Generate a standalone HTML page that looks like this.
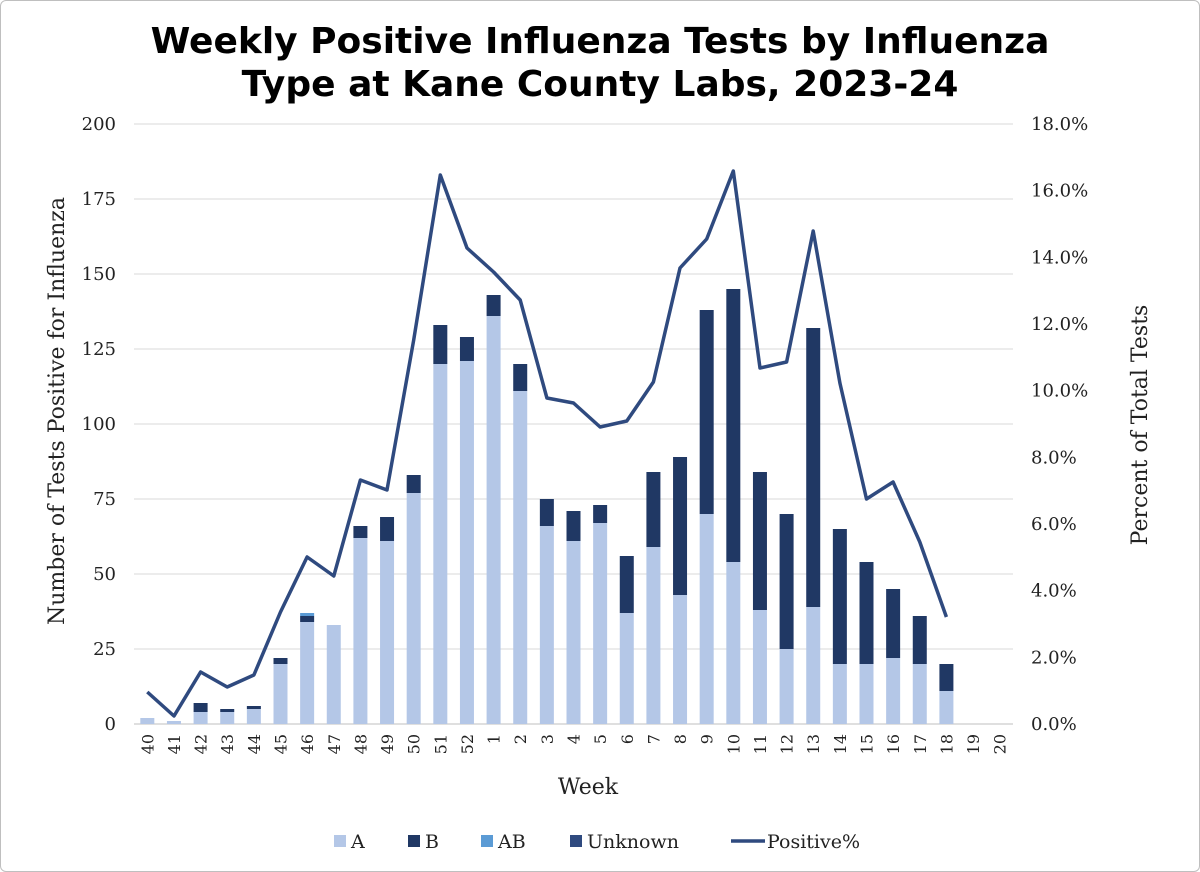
<!DOCTYPE html>
<html><head><meta charset="utf-8"><style>
html,body{margin:0;padding:0;background:#fff;}
#wrap{position:relative;width:1198px;height:870px;border:1px solid #bfbfbf;border-radius:6px;overflow:hidden;background:#fff;}
svg text{font-family:"DejaVu Serif","Liberation Serif",serif;fill:#222;}
</style></head><body>
<div id="wrap">
<svg id="chart" width="1198" height="870">
<text x="599" y="52" text-anchor="middle" style="font-family:'DejaVu Sans','Liberation Sans',sans-serif;font-weight:bold;font-size:36px;fill:#000">Weekly Positive Influenza Tests by Influenza</text>
<text x="599" y="95" text-anchor="middle" style="font-family:'DejaVu Sans','Liberation Sans',sans-serif;font-weight:bold;font-size:36px;fill:#000">Type at Kane County Labs, 2023-24</text>
<g id="grid"></g><g id="bars"></g><g id="line"></g><g id="axes"></g>
</svg>
</div>
<script>
const weeks=["40","41","42","43","44","45","46","47","48","49","50","51","52","1","2","3","4","5","6","7","8","9","10","11","12","13","14","15","16","17","18","19","20"];
const seriesA=[2,1,4,4,5,20,34,33,62,61,77,120,121,136,111,66,61,67,37,59,43,70,54,38,25,39,20,20,22,20,11,0,0];
const seriesB=[0,0,3,1,1,2,2,0,4,8,6,13,8,7,9,9,10,6,19,25,46,68,91,46,45,93,45,34,23,16,9,0,0];
const seriesAB=[0,0,0,0,0,0,1,0,0,0,0,0,0,0,0,0,0,0,0,0,0,0,0,0,0,0,0,0,0,0,0,0,0];
const seriesUnknown=[0,0,0,0,0,0,0,0,0,0,0,0,0,0,0,0,0,0,0,0,0,0,0,0,0,0,0,0,0,0,0,0,0];
const positivePct=[0.96,0.24,1.56,1.11,1.47,3.36,5.01,4.44,7.32,7.02,11.52,16.47,14.28,13.56,12.72,9.78,9.63,8.91,9.09,10.26,13.68,14.55,16.59,10.68,10.86,14.79,10.23,6.75,7.26,5.46,3.21,null,null];
const leftTicks=[0,25,50,75,100,125,150,175,200];
const rightTicks=[0,2,4,6,8,10,12,14,16,18];

const NS="http://www.w3.org/2000/svg";
const X0=133,X1=1012,Y0=723,Y1=123;
const step=(X1-X0)/weeks.length;
const xc=i=>X0+step*(i+0.5);
const yL=v=>Y0-(v/200)*(Y0-Y1);
const yR=v=>Y0-(v/18)*(Y0-Y1);
function mk(tag,attrs,parent,txt){const e=document.createElementNS(NS,tag);for(const k in attrs)e.setAttribute(k,attrs[k]);if(txt!==undefined)e.textContent=txt;document.getElementById(parent).appendChild(e);return e;}

leftTicks.forEach(t=>{
  const g=mk('line',{x1:X0,x2:X1,y1:yL(t),y2:yL(t),stroke:t===0?'#bfbfbf':'#d9d9d9','stroke-width':1},'grid');
  
  
  const l=mk('text',{x:115,y:yL(t)+6,'text-anchor':'end','font-size':18},'axes',String(t));
  
  
});
rightTicks.forEach(t=>{
  const l=mk('text',{x:1030,y:yR(t)+6,'font-size':18},'axes',t.toFixed(1)+'%');
  
  
});
const bw=14;
weeks.forEach((w,i)=>{
  let base=0;
  [[seriesA,'#b4c7e7','bar-a'],[seriesB,'#203864','bar-b'],[seriesAB,'#5b9bd5','bar-ab'],[seriesUnknown,'#2f4a7f','bar-unknown']].forEach(([s,c,n])=>{
    const v=s[i];if(!v)return;
    const r=mk('rect',{x:xc(i)-bw/2,y:yL(base+v),width:bw,height:yL(base)-yL(base+v),fill:c},'bars');
    
    
    base+=v;
  });
  const t=mk('text',{transform:`translate(${xc(i)+6},${Y0+10}) rotate(-90)`,'text-anchor':'end','font-size':16},'axes',w);
  
  
});
let d='';positivePct.forEach((v,i)=>{if(v==null)return;d+=(d?'L':'M')+xc(i).toFixed(1)+','+yR(v).toFixed(1);});
const pl=mk('path',{d:d,fill:'none',stroke:'#2f4a7f','stroke-width':3.5,'stroke-linejoin':'round'},'line');



let t=mk('text',{x:587,y:793,'text-anchor':'middle','font-size':22},'axes','Week');


t=mk('text',{transform:'translate(63,410) rotate(-90)','text-anchor':'middle','font-size':22},'axes','Number of Tests Positive for Influenza');


t=mk('text',{transform:'translate(1146,424) rotate(-90)','text-anchor':'middle','font-size':22},'axes','Percent of Total Tests');



const leg=[['A','#b4c7e7',333],['B','#203864',407],['AB','#5b9bd5',480],['Unknown','#2f4a7f',569]];
leg.forEach(([n,c,x])=>{
  const r=mk('rect',{x:x,y:834,width:12,height:12,fill:c},'axes');
  
  
  const l=mk('text',{x:x+17,y:847,'font-size':19},'axes',n);
  
  
});
const ll=mk('line',{x1:730,x2:764,y1:840,y2:840,stroke:'#2f4a7f','stroke-width':3.5},'axes');


const lt=mk('text',{x:766,y:847,'font-size':19},'axes','Positive%');


</script>
</body></html>
